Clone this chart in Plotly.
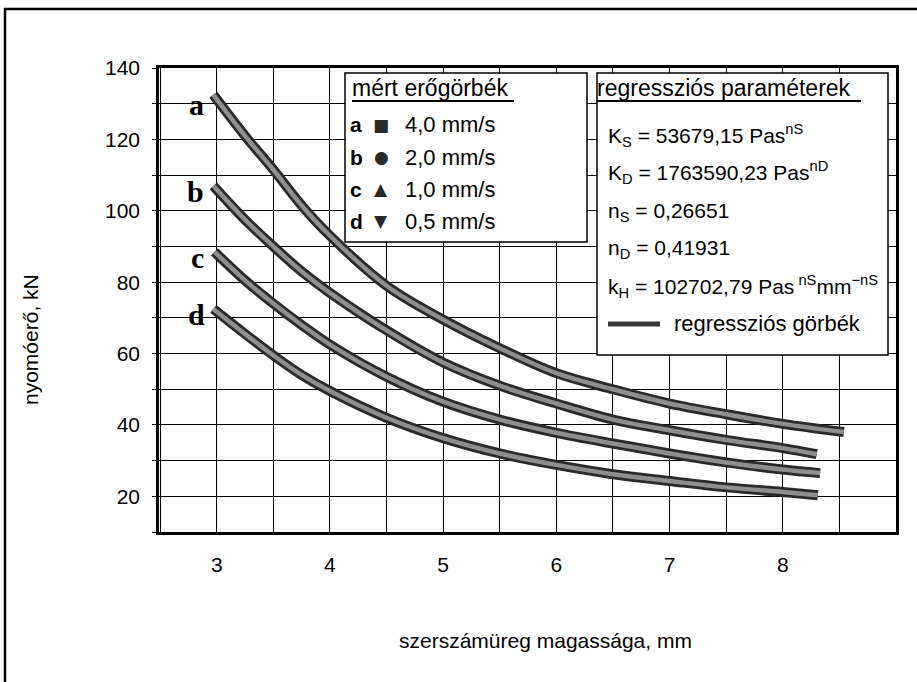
import plotly.graph_objects as go

# ---- data ----
h_a = [2.97, 3.25, 3.5, 3.75, 4.0, 4.5, 5.0, 5.5, 6.0, 6.5, 7.0, 7.5, 8.0, 8.54]
f_a = [132.5, 121, 111.5, 101.5, 93, 79, 69.5, 61.5, 54.5, 50, 46, 43, 40.3, 38]
h_b = [2.97, 3.25, 3.5, 3.75, 4.0, 4.5, 5.0, 5.5, 6.0, 6.5, 7.0, 7.5, 8.0, 8.3]
f_b = [107, 97.5, 90, 83, 77, 66.5, 57.5, 51, 46, 41.5, 38.5, 35.8, 33.5, 31.8]
h_c = [2.98, 3.25, 3.5, 3.75, 4.0, 4.5, 5.0, 5.5, 6.0, 6.5, 7.0, 7.5, 8.0, 8.33]
f_c = [88.5, 80.5, 74, 68, 62.5, 53.5, 46.5, 41.5, 37.8, 34.8, 32, 29.5, 27.5, 26.5]
h_d = [2.97, 3.25, 3.5, 3.75, 4.0, 4.5, 5.0, 5.5, 6.0, 6.5, 7.0, 7.5, 8.0, 8.31]
f_d = [72.5, 65.5, 59.5, 54, 49.5, 42, 36.3, 32, 28.8, 26.2, 24.3, 22.5, 21.2, 20.3]

curve_letters = ["a", "b", "c", "d"]
speeds = ["4,0 mm/s", "2,0 mm/s", "1,0 mm/s", "0,5 mm/s"]
marker_glyphs = ["■", "●", "▲", "▼"]

x_ticks = [3, 4, 5, 6, 7, 8]
y_ticks = [20, 40, 60, 80, 100, 120, 140]

reg_params = [
    "K<sub>S</sub> = 53679,15 Pas<sup>nS</sup>",
    "K<sub>D</sub> = 1763590,23 Pas<sup>nD</sup>",
    "n<sub>S</sub> = 0,26651",
    "n<sub>D</sub> = 0,41931",
    "k<sub>H</sub> = 102702,79 Pas<sup> nS</sup>mm<sup>−nS</sup>",
]

# ---- layout geometry (pixels) ----
W, H = 917, 682
L, R, T, B = 159, 896, 68, 532
XR = [2.49, 9.0]
YR = [10, 140]


def px(x):
    return (x - L) / (R - L)


def py(y):
    return (B - y) / (B - T)


FONT = "Liberation Sans, Arial, sans-serif"

fig = go.Figure()

for hx, fy in [(h_a, f_a), (h_b, f_b), (h_c, f_c), (h_d, f_d)]:
    fig.add_trace(go.Scatter(x=hx, y=fy, mode="lines",
                             line=dict(color="#2a2a2a", width=10, shape="spline"),
                             hoverinfo="skip"))
    fig.add_trace(go.Scatter(x=hx, y=fy, mode="lines",
                             line=dict(color="#8e8e8e", width=4.5, shape="spline"),
                             hoverinfo="skip"))

shapes = []
annotations = []

# outer frame
shapes.append(dict(type="path", xref="paper", yref="paper",
                   path=f"M {px(5)} {py(682)} L {px(5)} {py(9)} L {px(917)} {py(9)}",
                   line=dict(color="black", width=2.5)))

# legend box 1
shapes.append(dict(type="rect", xref="paper", yref="paper",
                   x0=px(345), x1=px(587), y0=py(242), y1=py(73),
                   fillcolor="white", line=dict(color="black", width=1.5), layer="above"))
shapes.append(dict(type="line", xref="paper", yref="paper",
                   x0=px(352), x1=px(514), y0=py(101), y1=py(101),
                   line=dict(color="black", width=2)))
annotations.append(dict(xref="paper", yref="paper", x=px(350), y=py(88), xanchor="left",
                        yanchor="middle", showarrow=False, text="mért erőgörbék",
                        font=dict(family=FONT, size=23, color="black")))
row_y = [125, 157, 189, 221]
for lt, sp, gl, ry in zip(curve_letters, speeds, marker_glyphs, row_y):
    annotations.append(dict(xref="paper", yref="paper", x=px(348), y=py(ry), xanchor="left",
                            yanchor="middle", showarrow=False, text=f"<b>{lt}</b>",
                            font=dict(family=FONT, size=21, color="black")))
    annotations.append(dict(xref="paper", yref="paper", x=px(381), y=py(ry), xanchor="center",
                            yanchor="middle", showarrow=False, text=gl,
                            font=dict(family="DejaVu Sans", size=17, color="#2a2a2a")))
    annotations.append(dict(xref="paper", yref="paper", x=px(403), y=py(ry), xanchor="left",
                            yanchor="middle", showarrow=False, text=sp,
                            font=dict(family=FONT, size=22, color="black")))

# legend box 2
shapes.append(dict(type="rect", xref="paper", yref="paper",
                   x0=px(597), x1=px(888), y0=py(355), y1=py(73),
                   fillcolor="white", line=dict(color="black", width=1.5), layer="above"))
shapes.append(dict(type="line", xref="paper", yref="paper",
                   x0=px(597), x1=px(861), y0=py(101), y1=py(101),
                   line=dict(color="black", width=2)))
annotations.append(dict(xref="paper", yref="paper", x=px(595), y=py(88), xanchor="left",
                        yanchor="middle", showarrow=False, text="regressziós paraméterek",
                        font=dict(family=FONT, size=23, color="black")))
reg_y = [135, 172, 212, 249, 286]
for txt, ry in zip(reg_params, reg_y):
    annotations.append(dict(xref="paper", yref="paper", x=px(606), y=py(ry), xanchor="left",
                            yanchor="middle", showarrow=False, text=txt,
                            font=dict(family=FONT, size=21, color="black")))
shapes.append(dict(type="line", xref="paper", yref="paper",
                   x0=px(608), x1=px(660), y0=py(324), y1=py(324),
                   line=dict(color="#3a3a3a", width=5), layer="above"))
annotations.append(dict(xref="paper", yref="paper", x=px(672), y=py(323), xanchor="left",
                        yanchor="middle", showarrow=False, text="regressziós görbék",
                        font=dict(family=FONT, size=22, color="black")))

# curve letters
for lt, (lx, ly) in zip(curve_letters, [(196, 104), (195, 191), (197, 257), (196, 314)]):
    annotations.append(dict(xref="paper", yref="paper", x=px(lx), y=py(ly), xanchor="center",
                            yanchor="middle", showarrow=False, text=f"<b>{lt}</b>",
                            font=dict(family="Liberation Serif, Times New Roman, serif",
                                      size=30, color="black")))

# axis titles
annotations.append(dict(xref="paper", yref="paper", x=px(545), y=py(640), xanchor="center",
                        yanchor="middle", showarrow=False, text="szerszámüreg magassága, mm",
                        font=dict(family=FONT, size=21, color="black")))
annotations.append(dict(xref="paper", yref="paper", x=px(30), y=py(340), xanchor="center",
                        yanchor="middle", showarrow=False, text="nyomóerő, kN", textangle=-90,
                        font=dict(family=FONT, size=21, color="black")))

x_grid = [2.5 + 0.5 * i for i in range(14)]
y_grid = [10 + 10 * i for i in range(14)]

fig.update_layout(
    width=W, height=H,
    margin=dict(l=L, r=W - R, t=T, b=H - B),
    paper_bgcolor="white", plot_bgcolor="white",
    showlegend=False,
    shapes=shapes, annotations=annotations,
    xaxis=dict(range=XR, tickvals=x_grid,
               ticktext=[str(int(v)) if v in x_ticks else "" for v in x_grid],
               showgrid=True, gridcolor="black", gridwidth=1.3, zeroline=False,
               showline=True, linecolor="black", linewidth=2.5, mirror=True,
               ticks="", ticklabelstandoff=12,
               tickfont=dict(family=FONT, size=21, color="black")),
    yaxis=dict(range=YR, tickvals=y_grid,
               ticktext=[str(v) if v in y_ticks else "" for v in y_grid],
               showgrid=True, gridcolor="black", gridwidth=1.3, zeroline=False,
               showline=True, linecolor="black", linewidth=2.5, mirror=True,
               ticks="outside", ticklen=4, tickcolor="black", ticklabelstandoff=8,
               tickfont=dict(family=FONT, size=21, color="black")),
)

fig.write_html("out.html", config={"displayModeBar": False},
               post_script="document.body.style.margin='0';")
